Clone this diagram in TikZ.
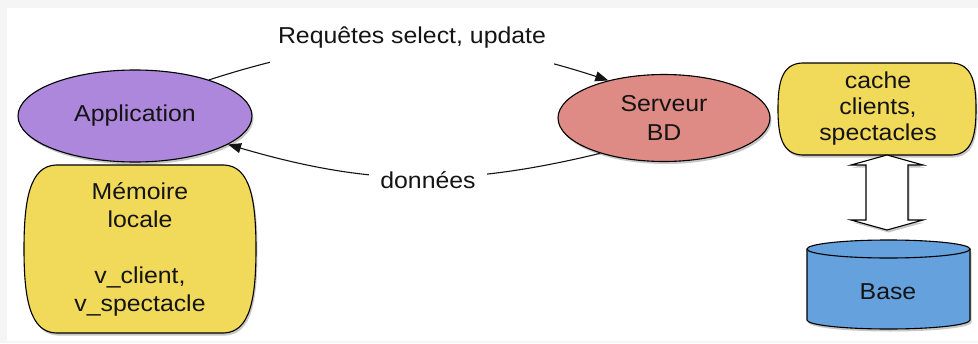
\documentclass[tikz,border=0pt]{standalone}
\usepackage{fontspec}
\setmainfont[FakeStretch=1.08]{Liberation Sans}
\usetikzlibrary{shapes.geometric,arrows.meta,shadows,calc}

\definecolor{bggray}{HTML}{F5F5F5}
\definecolor{ink}{HTML}{141414}
\definecolor{appfill}{HTML}{AD87DB}
\definecolor{srvfill}{HTML}{DE8A85}
\definecolor{memfill}{HTML}{F1D95A}
\definecolor{dbfill}{HTML}{65A1DD}

\begin{document}
\begin{tikzpicture}[x=1pt,y=-1pt,
  txt/.style={font=\fontsize{23}{28}\selectfont, text=ink, align=center},
  outline/.style={draw=black, line width=1.1pt},
  softshadow/.style={drop shadow={shadow xshift=1.5pt, shadow yshift=-2.5pt, opacity=0.22, fill=black}},
  ell/.style={ellipse, outline, softshadow, inner sep=0pt, txt},
  conn/.style={line width=1.1pt, draw=ink, -{Triangle[length=13pt,width=10pt]}},
  lbl/.style={txt, fill=white, anchor=base, inner ysep=0pt}
]
\useasboundingbox (0,0) rectangle (978,343);
\fill[bggray] (0,0) rectangle (978,343);
\fill[white] (7,8) rectangle (978,341);

% client side
\node[ell, fill=appfill, minimum width=234pt, minimum height=92pt] (app) at (135,116) {Application};

\path[outline, fill=memfill, softshadow]
  (56,165) -- (224,165) .. controls (250,166) and (256,199) .. (256,249)
  .. controls (256,299) and (250,332) .. (224,333) -- (56,333)
  .. controls (30,332) and (24,299) .. (24,249)
  .. controls (24,199) and (30,166) .. (56,165) -- cycle;
\node[txt] (mem) at (140,249) {Mémoire\\locale\\\mbox{}\\v\_client,\\v\_spectacle};

% server side
\node[ell, fill=srvfill, minimum width=212pt, minimum height=87pt,
      font=\fontsize{23}{29}\selectfont] (srv) at (664,118) {Serveur\\BD};

\path[outline, fill=memfill, softshadow]
  (802,63) -- (952,63) .. controls (972,64) and (976,82) .. (976,109)
  .. controls (976,136) and (972,154) .. (952,155) -- (802,155)
  .. controls (782,154) and (778,136) .. (778,109)
  .. controls (778,82) and (782,64) .. (802,63) -- cycle;
\node[txt, font=\fontsize{23}{26}\selectfont] (cache) at (878,109) {cache\\clients,\\spectacles};

% database cylinder
\fill[dbfill, softshadow] (807,249) -- (807,320)
  arc[start angle=180, end angle=0, x radius=81.5, y radius=9] -- (970,249) -- cycle;
\draw[line width=1.1pt] (807,249) -- (807,320)
  arc[start angle=180, end angle=0, x radius=81.5, y radius=9] -- (970,249);
\draw[line width=1.1pt, fill=dbfill] (888.5,249) ellipse[x radius=81.5, y radius=9];
\node[txt] (base) at (888,292) {Base};

% two-way transfer between cache and base
\coordinate (dtop) at (887,155);
\coordinate (dbot) at (887,230);
\path[outline, fill=white, softshadow]
  (dtop) -- ($(dtop)+(36,10)$) -- ($(dtop)+(21,10)$) -- ($(dbot)+(21,-10)$)
  -- ($(dbot)+(36,-10)$) -- (dbot) -- ($(dbot)+(-36,-10)$) -- ($(dbot)+(-21,-10)$)
  -- ($(dtop)+(-21,10)$) -- ($(dtop)+(-36,10)$) -- cycle;

% connectors
\draw[conn] (app.26) to[bend left=18] (srv.146);
\draw[conn] (srv.209) to[bend left=15] (app.-17);

% connector labels
\node[lbl, text height=22pt, text depth=24pt, inner xsep=8pt] (req) at (412,43) {Requêtes select, update};
\node[lbl, text height=18pt, text depth=8pt, inner xsep=11pt] (don) at (428,188) {données};
\end{tikzpicture}
\end{document}
